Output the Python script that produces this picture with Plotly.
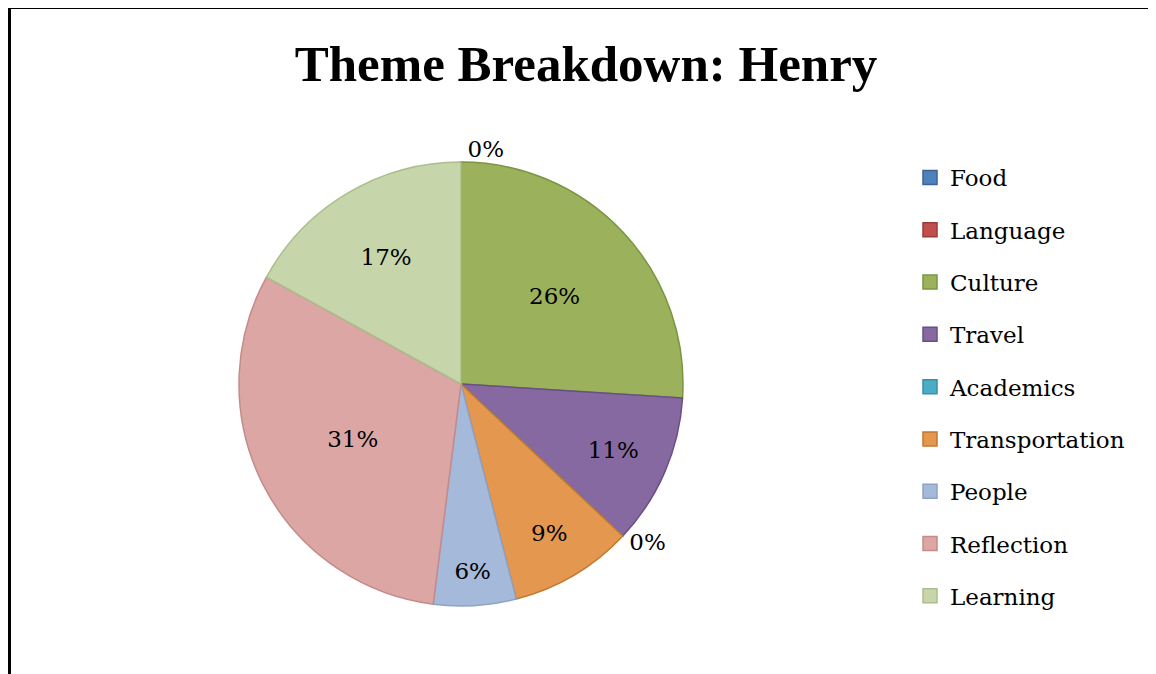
import plotly.graph_objects as go

# Theme breakdown for Henry (share of entries, %)
themes = ["Food", "Language", "Culture", "Travel", "Academics",
          "Transportation", "People", "Reflection", "Learning"]
shares = [0, 0, 26, 11, 0, 9, 6, 31, 17]

fill_colors = ["#4F81BD", "#C0504D", "#9BB15C", "#8669A0", "#4BACC6",
               "#E4974F", "#A5B9DA", "#DBA6A3", "#C6D5AA"]
edge_colors = ["#3A6596", "#9C3B38", "#7A9640", "#6A4F86", "#3990A8",
               "#C3782F", "#8EA2C6", "#C38C89", "#ABBE8C"]

W, H = 1156, 674
FONT = "DejaVu Serif"
# the page body has an 8px margin, so figure coords = picture coords - 8
OFF = 8

# zero slices get an outside label; Food and Language sit on top of each other,
# only one of them is shown
text_pos = ["outside" if v == 0 else "inside" for v in shares]
text_pos[0] = "none"

cx, cy, r = 461 - OFF, 384 - OFF, 250

fig = go.Figure()
fig.add_trace(go.Pie(
    labels=themes,
    values=shares,
    sort=False,
    direction="clockwise",
    rotation=0,
    marker=dict(colors=fill_colors, line=dict(color=edge_colors, width=1.5)),
    texttemplate="%{percent:.0%}",
    textposition=text_pos,
    insidetextorientation="horizontal",
    textfont=dict(family=FONT, size=23, color="black"),
    showlegend=False,
    hoverinfo="label+percent",
    domain=dict(x=[(cx - 222) / W, (cx + 222) / W],
                y=[1 - (cy + r) / H, 1 - (cy - r) / H]),
))

# legend entries (swatches) for each theme
for name, fc, ec in zip(themes, fill_colors, edge_colors):
    fig.add_trace(go.Scatter(
        x=[None], y=[None], mode="markers", name=name,
        marker=dict(symbol="square", size=14, color=fc, line=dict(color=ec, width=1.5)),
        legendgroup=name,
    ))

fig.update_layout(
    width=W, height=H,
    margin=dict(l=0, r=0, t=0, b=0),
    paper_bgcolor="white",
    plot_bgcolor="white",
    title=dict(text="<b>Theme Breakdown: Henry</b>", x=(586 - OFF) / W, xanchor="center",
               y=1 - (63 - OFF) / H, yanchor="middle",
               font=dict(family="Liberation Serif", size=51, color="black")),
    xaxis=dict(visible=False),
    yaxis=dict(visible=False),
    legend=dict(x=(910 - OFF) / W, xanchor="left", y=1 - (156 - OFF) / H, yanchor="top",
                font=dict(family=FONT, size=23, color="black"),
                tracegroupgap=19.4, bgcolor="rgba(0,0,0,0)"),
    shapes=[
        dict(type="line", xref="paper", yref="paper", x0=1 / W, x1=1 / W,
             y0=-0.1, y1=1 + 3 / H, line=dict(color="black", width=4)),
        dict(type="line", xref="paper", yref="paper", x0=-1 / W, x1=1.1,
             y0=1 + 1 / H, y1=1 + 1 / H, line=dict(color="black", width=4)),
    ],
)

fig.write_html("out.html")
